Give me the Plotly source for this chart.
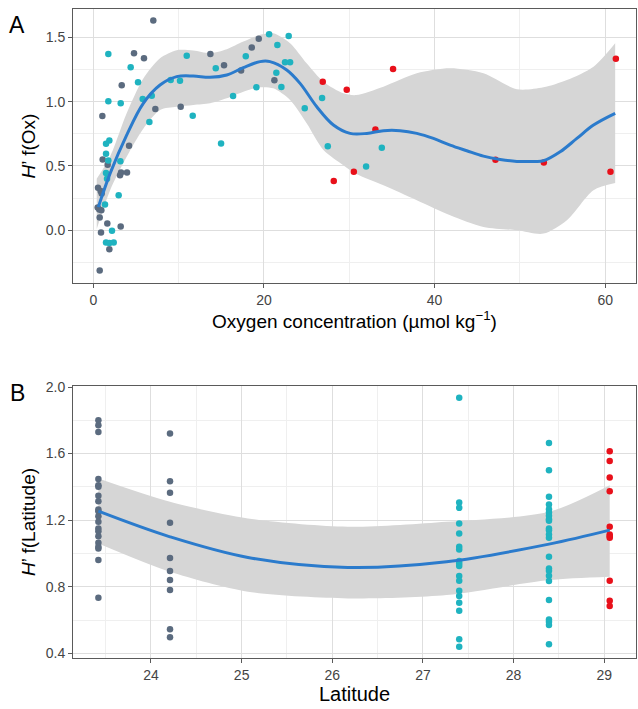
import plotly.graph_objects as go

# ---------------- Panel A data (oxygen) ----------------
oxA_gray_x = [7.03, 4.77, 5.94, 3.33, 7.27, 1.06, 4.19, 1.10, 1.68, 3.25, 3.95, 3.13,
              0.55, 0.86, 0.98, 0.51, 0.70, 0.94, 0.75, 1.64, 3.21, 0.90, 1.88, 0.75,
              10.24, 13.72, 15.32, 17.32, 18.57, 19.39, 21.22]
oxA_gray_y = [1.63, 1.376, 1.337, 1.127, 0.942, 0.888, 0.657, 0.55, 0.509, 0.449, 0.449, 0.428,
              0.33, 0.306, 0.286, 0.177, 0.161, 0.156, 0.099, 0.052, 0.029, -0.018, -0.148, -0.312,
              0.96, 1.37, 1.283, 1.241, 1.42, 1.488, 1.166]
oxA_teal_x = [1.76, 4.38, 5.24, 5.79, 6.85, 1.76, 3.21, 6.57, 1.88, 1.49, 1.49, 1.76,
              3.17, 1.49, 1.61, 2.97, 1.37, 2.19, 1.49, 1.88, 2.39,
              9.07, 10.16, 10.95, 11.65, 14.35, 14.97, 16.38, 17.87, 19.11, 20.6,
              21.45, 21.57, 22.04, 22.47, 23.06, 22.9, 24.78, 26.81, 27.48, 31.97, 33.81]
oxA_teal_y = [1.37, 1.267, 1.15, 1.02, 1.046, 1.002, 0.987, 0.841, 0.698, 0.672, 0.594, 0.543,
              0.537, 0.446, 0.40, 0.273, 0.20, -0.003, -0.096, -0.099, -0.096,
              1.168, 1.163, 1.357, 0.89, 1.259, 0.675, 1.044, 1.353, 1.111, 1.524,
              1.225, 1.441, 1.114, 1.306, 1.306, 1.511, 0.948, 1.028, 0.654, 0.496, 0.641]
oxA_red_x = [26.89, 28.18, 29.7, 30.53, 35.13, 33.06, 47.13, 52.8, 60.61, 61.24]
oxA_red_y = [1.155, 0.382, 1.093, 0.454, 1.254, 0.784, 0.548, 0.527, 0.454, 1.334]

# smooth fit
oxA_fit_x = [0.59, 1.96, 3.91, 5.86, 7.82, 9.77, 11.72, 13.68, 15.64, 17.58, 19.54, 20.71,
             22.67, 24.23, 26.19, 28.14, 30.09, 32.05, 34.0, 35.96, 37.91, 39.86, 41.82,
             43.77, 45.72, 47.68, 49.64, 51.58, 52.75, 54.71, 56.67, 58.62, 61.16]
oxA_fit_y = [0.18, 0.44, 0.74, 0.987, 1.129, 1.194, 1.199, 1.189, 1.207, 1.264, 1.311, 1.311,
             1.246, 1.142, 0.96, 0.818, 0.753, 0.753, 0.774, 0.774, 0.753, 0.714, 0.662,
             0.618, 0.576, 0.55, 0.535, 0.535, 0.54, 0.61, 0.714, 0.818, 0.909]
oxA_band_x = [0.4, 1.96, 3.91, 5.86, 7.82, 9.77, 11.72, 13.68, 15.64, 17.58, 19.54, 21.1,
              23.06, 25.0, 26.97, 29.3, 30.8, 34.0, 37.91, 41.82, 45.72, 49.64, 52.75,
              55.5, 58.62, 61.16]
oxA_band_hi = [0.40, 0.571, 0.909, 1.18, 1.337, 1.40, 1.397, 1.376, 1.407, 1.467, 1.519, 1.532,
               1.454, 1.298, 1.155, 1.065, 1.051, 1.116, 1.22, 1.259, 1.22, 1.096, 1.111,
               1.168, 1.272, 1.454]
oxA_band_lo = [0.01, 0.31, 0.571, 0.79, 0.935, 0.96, 0.974, 0.987, 1.026, 1.077, 1.111, 1.103,
               1.012, 0.831, 0.623, 0.506, 0.44, 0.35, 0.234, 0.117, 0.026, 0.0, -0.026,
               0.078, 0.312, 0.368]

# ---------------- Panel B data (latitude) ----------------
latB_gray_x = [23.42] * 20 + [24.21] * 10
latB_gray_y = [1.80, 1.77, 1.73, 1.448, 1.41, 1.40, 1.346, 1.314, 1.264, 1.254, 1.224, 1.19,
               1.15, 1.134, 1.104, 1.064, 1.04, 1.03, 0.96, 0.734,
               1.72, 1.434, 1.365, 1.184, 0.972, 0.894, 0.84, 0.78, 0.544, 0.497]
latB_teal_x = [27.40] * 18 + [28.39] * 23
latB_teal_y = [1.936, 1.306, 1.274, 1.18, 1.12, 1.04, 1.024, 0.954, 0.94, 0.924, 0.864, 0.836,
               0.776, 0.744, 0.704, 0.656, 0.484, 0.44,
               1.664, 1.50, 1.34, 1.294, 1.266, 1.246, 1.226, 1.206, 1.196, 1.15, 1.14, 1.114,
               1.094, 0.98, 0.91, 0.896, 0.866, 0.834, 0.72, 0.604, 0.59, 0.57, 0.454]
latB_red_x = [29.06] * 11
latB_red_y = [1.614, 1.556, 1.456, 1.374, 1.16, 1.114, 1.104, 1.094, 0.836, 0.716, 0.684]

latB_fit_x = [23.42, 24.21, 25.07, 26.17, 27.26, 28.39, 29.06]
latB_fit_y = [1.254, 1.10, 0.976, 0.916, 0.95, 1.056, 1.14]
latB_band_hi = [1.45, 1.31, 1.21, 1.16, 1.19, 1.25, 1.41]
latB_band_lo = [1.06, 0.89, 0.77, 0.73, 0.75, 0.84, 0.86]

GRAY = "#5b6b7f"
TEAL = "#1fb3c0"
RED = "#e8101a"
FIT = "#2b7bcc"
BAND = "#d6d6d6"

fig = go.Figure()

def add_panel(xa, ya, bx, bhi, blo, fx, fy, groups):
    fig.add_trace(go.Scatter(x=bx, y=blo, mode="lines",
                             line=dict(width=0, shape="spline", smoothing=0.8, color=BAND),
                             hoverinfo="skip", showlegend=False, xaxis=xa, yaxis=ya))
    fig.add_trace(go.Scatter(x=bx, y=bhi, mode="lines", fill="tonexty", fillcolor=BAND,
                             line=dict(width=0, shape="spline", smoothing=0.8, color=BAND),
                             hoverinfo="skip", showlegend=False, xaxis=xa, yaxis=ya))
    for gx, gy, col in groups:
        fig.add_trace(go.Scatter(x=gx, y=gy, mode="markers",
                                 marker=dict(color=col, size=6.5, line=dict(width=0)),
                                 showlegend=False, xaxis=xa, yaxis=ya))
    fig.add_trace(go.Scatter(x=fx, y=fy, mode="lines",
                             line=dict(color=FIT, width=3, shape="spline", smoothing=1.0),
                             showlegend=False, xaxis=xa, yaxis=ya))

add_panel("x", "y", oxA_band_x, oxA_band_hi, oxA_band_lo, oxA_fit_x, oxA_fit_y,
          [(oxA_gray_x, oxA_gray_y, GRAY), (oxA_teal_x, oxA_teal_y, TEAL), (oxA_red_x, oxA_red_y, RED)])
add_panel("x2", "y2", latB_fit_x, latB_band_hi, latB_band_lo, latB_fit_x, latB_fit_y,
          [(latB_gray_x, latB_gray_y, GRAY), (latB_teal_x, latB_teal_y, TEAL), (latB_red_x, latB_red_y, RED)])

FONT = "Liberation Sans, Arial, sans-serif"
axis_common = dict(showline=True, linecolor="#5a5a5a", linewidth=1, mirror=True,
                   ticks="outside", ticklen=4, tickcolor="#5a5a5a", automargin=False,
                   tickfont=dict(size=14, color="#444444", family=FONT),
                   gridcolor="#dedede", gridwidth=1, zeroline=False)
minor_common = dict(showgrid=True, gridcolor="#efefef", gridwidth=1, ticks="")

fig.update_layout(
    width=638, height=709, plot_bgcolor="white", paper_bgcolor="white",
    margin=dict(l=73, r=2, t=9, b=51),
    font=dict(family=FONT, color="black"),
    hovermode=False,
    xaxis=dict(axis_common, domain=[0, 1], anchor="y", range=[-2.38, 63.6],
               tickvals=[0, 20, 40, 60], minor=dict(minor_common, dtick=10, tick0=0),
               title=dict(text="Oxygen concentration (µmol kg<sup>−1</sup>)",
                          font=dict(size=19, family=FONT), standoff=3)),
    yaxis=dict(axis_common, domain=[0.5778, 1], anchor="x", range=[-0.41, 1.72],
               tickvals=[0, 0.5, 1.0, 1.5], ticktext=["0.0", "0.5", "1.0", "1.5"],
               minor=dict(minor_common, dtick=0.25, tick0=0),
               title=dict(text="<i>H</i>’ f(Ox)", font=dict(size=19, family=FONT), standoff=5)),
    xaxis2=dict(axis_common, domain=[0, 1], anchor="y2", range=[23.14, 29.35],
                tickvals=[24, 25, 26, 27, 28, 29], minor=dict(minor_common, dtick=0.5, tick0=23.5),
                title=dict(text="Latitude", font=dict(size=20, family=FONT), standoff=4)),
    yaxis2=dict(axis_common, domain=[0, 0.4191], anchor="x2", range=[0.372, 2.006],
                tickvals=[0.4, 0.8, 1.2, 1.6, 2.0], ticktext=["0.4", "0.8", "1.2", "1.6", "2.0"],
                minor=dict(minor_common, dtick=0.2, tick0=0.4),
                title=dict(text="<i>H</i>’ f(Latitude)", font=dict(size=19, family=FONT), standoff=5)),
    annotations=[
        dict(text="A", x=17, y=25, xref="paper", yref="paper", showarrow=False,
             font=dict(size=23, family=FONT, color="black")),
        dict(text="B", x=17, y=393, xref="paper", yref="paper", showarrow=False,
             font=dict(size=23, family=FONT, color="black")),
    ],
)
# convert pixel positions of panel labels to paper coords
pw, ph = 638 - 73 - 2, 709 - 9 - 51
for ann in fig.layout.annotations:
    ann.x = (ann.x - 73) / pw
    ann.y = (709 - 51 - ann.y) / ph
    ann.xanchor = "center"
    ann.yanchor = "middle"

fig.write_html("out.html", config={"displayModeBar": False, "staticPlot": True},
               post_script="document.body.style.margin='0';document.body.style.overflow='hidden';")
